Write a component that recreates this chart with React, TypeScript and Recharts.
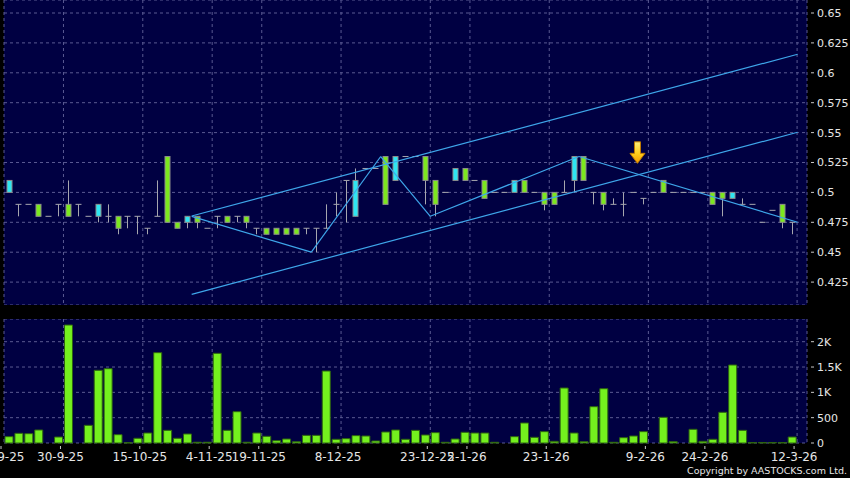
import React from 'react';
import { ComposedChart, Bar, XAxis, YAxis, CartesianGrid, ReferenceLine, ReferenceDot } from 'recharts';

// daily candles, one slot per traded day
const OPEN = [
  0.5, 0.49, 0.49, 0.49, 0.48, 0.49, 0.49, 0.49, 0.48, 0.48,
  0.48, 0.48, 0.48, 0.48, 0.47, 0.48, 0.53, 0.475, 0.475, 0.48,
  0.47, 0.48, 0.48, 0.48, 0.48, 0.47, 0.47, 0.47, 0.47, 0.47,
  0.47, 0.47, 0.47, 0.49, 0.51, 0.48, 0.52, 0.52, 0.53, 0.51,
  0.53, 0.53, 0.53, 0.51, 0.5, 0.51, 0.52, 0.51, 0.51, 0.5,
  0.5, 0.5, 0.51, 0.5, 0.5, 0.5, 0.5, 0.51, 0.53, 0.5,
  0.5, 0.49, 0.49, 0.5, 0.495, 0.5, 0.51, 0.5, 0.5, 0.5,
  0.5, 0.5, 0.5, 0.495, 0.49, 0.49, 0.475, 0.485, 0.49, 0.475,
];
const HIGH = [
  0.51, 0.49, 0.49, 0.49, 0.48, 0.49, 0.51, 0.49, 0.48, 0.49,
  0.49, 0.48, 0.48, 0.48, 0.47, 0.51, 0.53, 0.475, 0.48, 0.48,
  0.47, 0.48, 0.48, 0.48, 0.48, 0.47, 0.47, 0.47, 0.47, 0.47,
  0.47, 0.47, 0.49, 0.5, 0.51, 0.52, 0.52, 0.52, 0.53, 0.53,
  0.53, 0.53, 0.53, 0.51, 0.5, 0.52, 0.52, 0.51, 0.51, 0.5,
  0.5, 0.51, 0.51, 0.5, 0.5, 0.5, 0.51, 0.53, 0.53, 0.5,
  0.5, 0.495, 0.5, 0.5, 0.495, 0.5, 0.51, 0.5, 0.5, 0.5,
  0.5, 0.5, 0.5, 0.5, 0.495, 0.49, 0.475, 0.485, 0.49, 0.475,
];
const LOW = [
  0.5, 0.48, 0.49, 0.48, 0.48, 0.48, 0.48, 0.48, 0.48, 0.475,
  0.475, 0.465, 0.47, 0.465, 0.465, 0.48, 0.475, 0.47, 0.47, 0.47,
  0.47, 0.47, 0.475, 0.475, 0.47, 0.465, 0.465, 0.465, 0.465, 0.465,
  0.465, 0.45, 0.47, 0.48, 0.475, 0.48, 0.52, 0.52, 0.49, 0.51,
  0.53, 0.53, 0.49, 0.48, 0.5, 0.51, 0.51, 0.51, 0.495, 0.5,
  0.5, 0.5, 0.5, 0.5, 0.485, 0.49, 0.5, 0.5, 0.51, 0.49,
  0.485, 0.49, 0.48, 0.5, 0.49, 0.5, 0.5, 0.5, 0.5, 0.5,
  0.5, 0.49, 0.48, 0.495, 0.49, 0.49, 0.475, 0.485, 0.47, 0.465,
];
const CLOSE = [
  0.51, 0.49, 0.49, 0.48, 0.48, 0.49, 0.48, 0.49, 0.48, 0.49,
  0.48, 0.47, 0.48, 0.48, 0.47, 0.48, 0.475, 0.47, 0.48, 0.475,
  0.47, 0.48, 0.475, 0.48, 0.475, 0.47, 0.465, 0.465, 0.465, 0.465,
  0.47, 0.47, 0.47, 0.49, 0.51, 0.51, 0.52, 0.52, 0.49, 0.53,
  0.53, 0.53, 0.51, 0.49, 0.5, 0.52, 0.51, 0.51, 0.495, 0.5,
  0.5, 0.51, 0.5, 0.5, 0.49, 0.49, 0.5, 0.53, 0.51, 0.5,
  0.49, 0.49, 0.49, 0.5, 0.495, 0.5, 0.5, 0.5, 0.5, 0.5,
  0.5, 0.49, 0.495, 0.5, 0.49, 0.49, 0.475, 0.485, 0.475, 0.475,
];
const VOLUME = [
  125, 191, 184, 257, 0, 118, 2329, 0, 349, 1435,
  1467, 164, 5, 93, 197, 1783, 250, 93, 178, 15,
  15, 1770, 250, 618, 15, 197, 132, 46, 79, 25,
  151, 151, 1421, 73, 86, 145, 138, 40, 217, 257,
  73, 250, 158, 204, 14, 79, 211, 197, 197, 14,
  0, 125, 395, 112, 224, 33, 1086, 197, 25, 717,
  1072, 14, 105, 138, 224, 0, 507, 26, 0, 270,
  33, 73, 606, 1540, 250, 10, 10, 10, 10, 118,
];

const X_TICKS = [-0.5, 5.5, 13.5, 20.5, 25.5, 33.5, 42.5, 46.5, 54.5, 64.5, 70.5, 79.5];
const X_LABELS = ['22-9-25', '30-9-25', '15-10-25', '4-11-25', '19-11-25', '8-12-25', '23-12-25', '2-1-26', '23-1-26', '9-2-26', '24-2-26', '12-3-26'];
const PRICE_TICKS = [0.425, 0.45, 0.475, 0.5, 0.525, 0.55, 0.575, 0.6, 0.625, 0.65];
const PRICE_LABELS = ['0.425', '0.45', '0.475', '0.5', '0.525', '0.55', '0.575', '0.6', '0.625', '0.65'];
const VOL_TICKS = [0, 500, 1000, 1500, 2000];
const VOL_LABELS = ['0', '500', '1K', '1.5K', '2K'];

// drawn annotations (slot index, price)
const UPPER_LINE = [{ x: 18.43, y: 0.4803 }, { x: 79.55, y: 0.6155 }];
const LOWER_LINE = [{ x: 18.43, y: 0.4148 }, { x: 79.55, y: 0.5503 }];
const ZIGZAG_X = [18.43, 30.5, 37.5, 42.5, 57.5, 79.55];
const ZIGZAG_Y = [0.48, 0.45, 0.53, 0.48, 0.53, 0.475];
const ARROW_POINT = { x: 63.4, y: 0.5243 };

const X_DOMAIN = [-0.5, 80.5];
const PRICE_DOMAIN = [0.40585, 0.66087];
const VOL_DOMAIN = [0, 2448];

const NAVY = '#000042';
const GRID = '#5a5a92';
const TEXT = '#e6e6e6';
const TREND = '#3ea6ea';
const FONT = 'DejaVu Sans';

const rows = OPEN.map((o, i) => ({
  i,
  open: o,
  high: HIGH[i],
  low: LOW[i],
  close: CLOSE[i],
  vol: VOLUME[i],
  range: [LOW[i], HIGH[i]],
}));

const Candle = (props: any) => {
  const { x, width, y, height, payload } = props;
  if (!payload) return null;
  const { open, high, low, close } = payload;
  const cx = Math.round(x + width / 2) + 0.5;
  const top = Math.min(y, y + height);
  const bot = Math.max(y, y + height);
  const yOf = (v: number) => (high === low ? top : top + ((high - v) / (high - low)) * (bot - top));
  const wick = '#a6a6ae';
  const parts = [];
  if (high !== low) {
    parts.push(<line key="w" x1={cx} x2={cx} y1={yOf(high)} y2={yOf(low)} stroke={wick} strokeWidth={1} />);
  }
  if (open === close) {
    parts.push(<line key="d" x1={cx - 3} x2={cx + 3} y1={yOf(open)} y2={yOf(open)} stroke={wick} strokeWidth={1} />);
  } else {
    const t = yOf(Math.max(open, close));
    const b = yOf(Math.min(open, close));
    parts.push(
      <rect key="b" x={cx - 2.5} y={t} width={5} height={b - t}
        fill={close > open ? '#2ee6f2' : '#7ce81e'} stroke="#8c8c8c" strokeWidth={1} />
    );
  }
  return <g>{parts}</g>;
};

const PriceTick = (props: any) => {
  const { x, y, payload } = props;
  const label = PRICE_LABELS[PRICE_TICKS.indexOf(payload.value)];
  return (
    <g>
      <line x1={x + 4} x2={x + 7} y1={y} y2={y} stroke="#c8c8c8" />
      <text x={x + 10} y={y} dy="0.36em" fill={TEXT} fontSize={11} fontFamily={FONT}>{label}</text>
    </g>
  );
};

const VolTick = (props: any) => {
  const { x, y, payload } = props;
  const label = VOL_LABELS[VOL_TICKS.indexOf(payload.value)];
  return (
    <g>
      <line x1={x + 4} x2={x + 7} y1={y} y2={y} stroke="#c8c8c8" />
      <text x={x + 10} y={y} dy="0.36em" fill={TEXT} fontSize={11} fontFamily={FONT}>{label}</text>
    </g>
  );
};

const DateTick = (props: any) => {
  const { x, y, payload } = props;
  const label = X_LABELS[X_TICKS.indexOf(payload.value)];
  const tx = x - 3;
  return (
    <g>
      <line x1={tx} x2={tx} y1={y + 3} y2={y + 6} stroke="#c8c8c8" />
      <text x={tx} y={y + 18} textAnchor="middle" fill={TEXT} fontSize={12} fontFamily={FONT}>{label}</text>
    </g>
  );
};

const ArrowMark = (props: any) => {
  const { cx, cy } = props;
  if (cx == null || cy == null) return null;
  const d = `M${cx},${cy} L${cx - 7.5},${cy - 10} L${cx - 3},${cy - 10} L${cx - 3},${cy - 21.5} L${cx + 3},${cy - 21.5} L${cx + 3},${cy - 10} L${cx + 7.5},${cy - 10} Z`;
  return <path d={d} fill="url(#arrowFill)" stroke="#c07a00" strokeWidth={1} />;
};

export default function App() {
  const zigzag = ZIGZAG_X.slice(1).map((x, k) => [
    { x: ZIGZAG_X[k], y: ZIGZAG_Y[k] },
    { x, y: ZIGZAG_Y[k + 1] },
  ]);
  return (
    <div style={{ position: 'absolute', left: 0, top: 0, width: 850, height: 478, background: '#000', fontFamily: FONT, overflow: 'hidden' }}>
      <div style={{ position: 'absolute', left: 0, top: 0 }}>
        <ComposedChart width={850} height={305} data={rows} margin={{ top: 0, right: 0, bottom: 0, left: 4 }}>
          <defs>
            <linearGradient id="arrowFill" x1="0" y1="0" x2="0" y2="1">
              <stop offset="0%" stopColor="#fff07a" />
              <stop offset="55%" stopColor="#ffcc1a" />
              <stop offset="100%" stopColor="#f29a00" />
            </linearGradient>
          </defs>
          <CartesianGrid fill={NAVY} stroke={GRID} strokeDasharray="3 3" />
          <XAxis dataKey="i" type="number" domain={X_DOMAIN} ticks={X_TICKS} interval={0} hide />
          <YAxis orientation="right" width={43} type="number" domain={PRICE_DOMAIN} ticks={PRICE_TICKS}
            interval={0} axisLine={false} tickLine={false} tickSize={0} tickMargin={0} tick={<PriceTick />} />
          <ReferenceLine segment={UPPER_LINE} stroke={TREND} strokeWidth={1.2} ifOverflow="visible" />
          <ReferenceLine segment={LOWER_LINE} stroke={TREND} strokeWidth={1.2} ifOverflow="visible" />
          {zigzag.map((seg, k) => (
            <ReferenceLine key={k} segment={seg} stroke={TREND} strokeWidth={1.2} ifOverflow="visible" />
          ))}
          <Bar dataKey="range" barSize={9} shape={<Candle />} isAnimationActive={false} />
          <ReferenceDot x={ARROW_POINT.x} y={ARROW_POINT.y} r={0} shape={<ArrowMark />} ifOverflow="visible" />
        </ComposedChart>
      </div>
      <div style={{ position: 'absolute', left: 0, top: 319 }}>
        <ComposedChart width={850} height={159} data={rows} margin={{ top: 0, right: 0, bottom: 0, left: 4 }}>
          <CartesianGrid fill={NAVY} stroke={GRID} strokeDasharray="3 3" />
          <XAxis dataKey="i" type="number" domain={X_DOMAIN} ticks={X_TICKS} interval={0} height={35}
            axisLine={false} tickLine={false} tickSize={0} tickMargin={0} tick={<DateTick />} />
          <YAxis orientation="right" width={43} type="number" domain={VOL_DOMAIN} ticks={VOL_TICKS}
            interval={0} axisLine={false} tickLine={false} tickSize={0} tickMargin={0} tick={<VolTick />} />
          <Bar dataKey="vol" barSize={8} fill="#74f01e" stroke="#2e6410" strokeWidth={1} isAnimationActive={false} />
        </ComposedChart>
      </div>
      <div style={{ position: 'absolute', left: 687, top: 465, fontSize: 9.5, color: TEXT, whiteSpace: 'nowrap', lineHeight: '12px' }}>
        Copyright by AASTOCKS.com Ltd.
      </div>
    </div>
  );
}
